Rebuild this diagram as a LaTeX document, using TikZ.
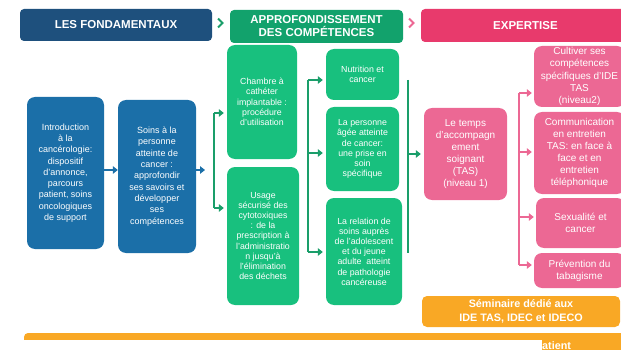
\documentclass[tikz,border=0pt]{standalone}
\usepackage{fontspec}
\setmainfont{Liberation Sans}
\usetikzlibrary{arrows.meta,positioning}
\definecolor{headblue}{RGB}{30,80,125}
\definecolor{boxblue}{RGB}{27,111,168}
\definecolor{headgreen}{RGB}{18,162,108}
\definecolor{boxgreen}{RGB}{24,192,126}
\definecolor{linegreen}{RGB}{26,158,106}
\definecolor{headpink}{RGB}{232,58,108}
\definecolor{boxpink}{RGB}{236,104,148}
\definecolor{boxorange}{RGB}{249,168,37}
\tikzset{
    box/.style={
        rounded corners=8pt,
        text=white,
        align=center,
        inner sep=0pt
    },
    bluebox/.style={box, fill=boxblue, font=\fontsize{9}{11.3}\selectfont},
    greenbox/.style={box, fill=boxgreen, font=\fontsize{8.8}{10.2}\selectfont},
    pinkbox/.style={box, fill=boxpink, font=\fontsize{10}{12.1}\selectfont},
    header/.style={
        rounded corners=4pt,
        text=white,
        align=center,
        inner sep=0pt,
        minimum height=32pt,
        font=\bfseries\fontsize{11.5}{13}\selectfont
    },
    link/.style={
        line width=2pt,
        -{Triangle[length=5pt,width=7.5pt]}
    },
    spine/.style={line width=2pt}
}

\begin{document}
\begin{tikzpicture}[x=1pt,y=-1pt]
\useasboundingbox (0,0) rectangle (621,350);
\node[header, fill=headblue, minimum width=192pt] (hfond) at (116,25) {LES FONDAMENTAUX};
\node[header, fill=headgreen, minimum width=173pt, minimum height=33pt] (happ) at (316.5,26.5) {APPROFONDISSEMENT\\DES COMPÉTENCES};
\node[header, fill=headpink, minimum width=209pt, minimum height=33pt] (hexp) at (525.5,25.5) {EXPERTISE};
\draw[linegreen, line width=1.8pt] (218,18.5) -- (222.5,23) -- (218,27.5);
\draw[boxpink, line width=1.8pt] (409,18.5) -- (413.5,23) -- (409,27.5);

\node[bluebox, minimum width=77pt, minimum height=152pt] (intro) at (65.5,173) {Introduction\\à la\\cancérologie:\\dispositif\\d’annonce,\\parcours\\patient, soins\\oncologiques\\de support};
\node[bluebox, minimum width=78pt, minimum height=153pt] (soins) at (157,176.5) {Soins à la\\personne\\atteinte de\\cancer :\\approfondir\\ses savoirs et\\développer\\ses\\compétences};

\node[greenbox, minimum width=70pt, minimum height=114pt] (chambre) at (262,102) {Chambre à\\cathéter\\implantable :\\procédure\\d’utilisation};
\node[greenbox, minimum width=72pt, minimum height=138pt] (usage) at (263,236) {Usage\\sécurisé des\\cytotoxiques\\: de la\\prescription à\\l’administratio\\n jusqu’à\\l’élimination\\des déchets};
\node[greenbox, minimum width=73pt, minimum height=51pt] (nutrition) at (362.5,74.5) {Nutrition et\\cancer};
\node[greenbox, minimum width=73pt, minimum height=84pt] (agee) at (362.5,149) {La personne\\âgée atteinte\\de cancer:\\une prise en\\soin\\spécifique};
\node[greenbox, minimum width=76pt, minimum height=107pt] (relation) at (364,251.5) {La relation de\\soins auprès\\de l’adolescent\\et du jeune\\adulte\ \ atteint\\de pathologie\\cancéreuse};

\node[pinkbox, minimum width=83pt, minimum height=92pt] (temps) at (465.5,154) {Le temps\\d’accompagn\\ement\\soignant\\(TAS)\\(niveau 1)};
\node[pinkbox, minimum width=91pt, minimum height=61pt] (cultiver) at (579.5,76.5) {Cultiver ses\\compétences\\spécifiques d’IDE\\TAS\\(niveau2)};
\node[pinkbox, minimum width=91pt, minimum height=82pt] (comm) at (579.5,153) {Communication\\en entretien\\TAS: en face à\\face et en\\entretien\\téléphonique};
\node[pinkbox, minimum width=89pt, minimum height=50pt] (sexualite) at (580.5,223) {Sexualité et\\cancer};
\node[pinkbox, minimum width=91pt, minimum height=35pt] (prevention) at (579.5,270.5) {Prévention du\\tabagisme};

\node[box, rounded corners=5pt, fill=boxorange, minimum width=198pt, minimum height=31pt, font=\bfseries\fontsize{10.8}{14}\selectfont] (seminaire) at (521,311.5) {Séminaire dédié aux\\IDE TAS, IDEC et IDECO};
\fill[boxorange, rounded corners=4pt] (24,333) rectangle (640,380);
\fill[white] (24,340) rectangle (542,352);
\node[anchor=west, text=white, inner sep=0pt, font=\bfseries\fontsize{10.8}{13}\selectfont] (patient) at (542,346) {atient};

\coordinate (in1) at (205,170);
\coordinate (b1a) at (214,113);
\coordinate (b1b) at (214,208);
\coordinate (b2a) at (308,80);
\coordinate (b2m) at (308,153);
\coordinate (b2b) at (308,252);
\coordinate (g3a) at (408,80);
\coordinate (g3b) at (408,253);
\coordinate (p1) at (519,93);
\coordinate (p2) at (519,152);
\coordinate (p3) at (519,217);
\coordinate (p4) at (519,265);

\path[link, boxblue]
  (intro.east |- in1) edge (soins.west |- in1)
  (soins.east |- in1) edge (in1);
\path[link, linegreen, shorten >=3pt]
  (b1a) edge (b1a -| chambre.west)
  (b1b) edge (b1b -| usage.west)
  (b2a) edge (b2a -| nutrition.west)
  (b2m) edge (b2m -| agee.west)
  (b2b) edge (b2b -| relation.west)
  (g3a |- temps.west) edge (temps.west);
\draw[spine, linegreen] (b1a) -- (b1b);
\draw[spine, linegreen] (b2a) -- (b2b);
\draw[spine, linegreen] (g3a) -- (g3b);
\path[link, boxpink, shorten >=2pt]
  (p1) edge (p1 -| cultiver.west)
  (p2) edge (p2 -| comm.west)
  (p3) edge (p3 -| sexualite.west)
  (p4) edge (p4 -| prevention.west);
\draw[spine, boxpink] (p1) -- (p4);
\end{tikzpicture}
\end{document}
